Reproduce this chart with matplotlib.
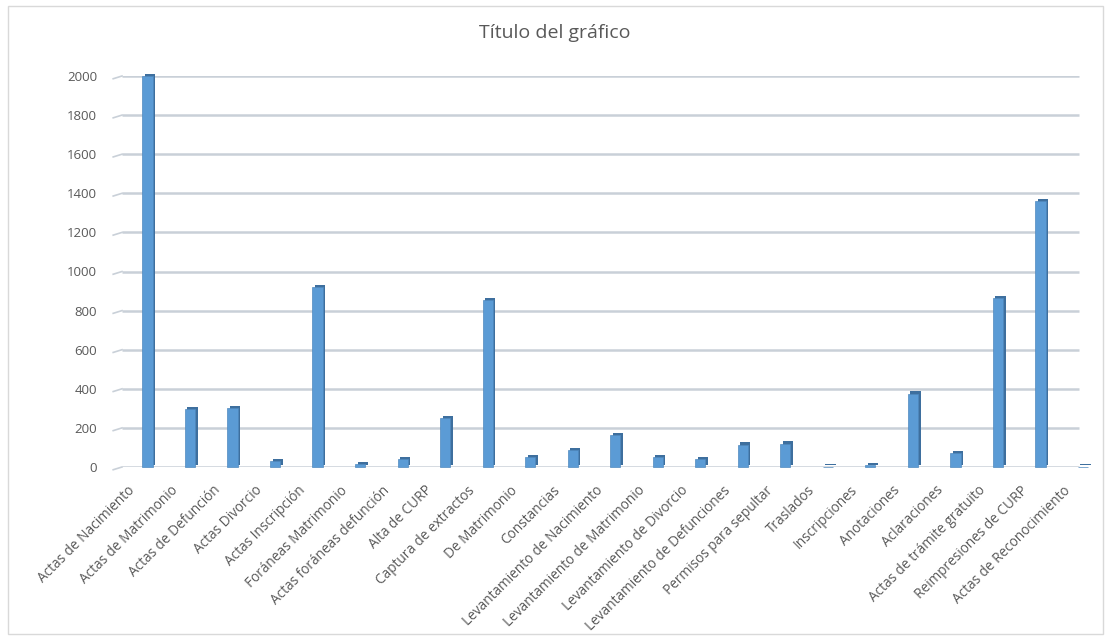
import numpy
import matplotlib
matplotlib.use('Agg')
import matplotlib.pyplot as plt
import matplotlib.transforms as mtransforms
from matplotlib.patches import Rectangle

categories = [
    'Actas de Nacimiento', 'Actas de Matrimonio', 'Actas de Defunción', 'Actas Divorcio',
    'Actas Inscripción', 'Foráneas Matrimonio', 'Actas foráneas defunción', 'Alta de CURP',
    'Captura de extractos', 'De Matrimonio', 'Constancias', 'Levantamiento de Nacimiento',
    'Levantamiento de Matrimonio', 'Levantamiento de Divorcio', 'Levantamiento de Defunciones',
    'Permisos para sepultar', 'Traslados', 'Inscripciones', 'Anotaciones', 'Aclaraciones',
    'Actas de trámite gratuito', 'Reimpresiones de CURP', 'Actas de Reconocimiento',
]
values = [2000, 295, 302, 30, 920, 15, 40, 250, 855, 50, 85, 162, 50, 40, 115, 120,
          2, 8, 375, 70, 865, 1360, 2]
yticks = list(range(0, 2001, 200))

plt.rcParams['font.family'] = ['Open Sans', 'DejaVu Sans']
TEXT = '#595959'
FRONT = '#5B9BD5'
SIDE = '#3E6F9E'

fig = plt.figure(figsize=(11.1, 6.41), dpi=100)
ax = fig.add_axes([122 / 1110, 1 - 467 / 641, (1100 - 122) / 1110, (467 - 76) / 641])

x = numpy.arange(len(categories))
v = numpy.array(values)

# back wall gridlines with a short slanted floor edge on the left
ax.hlines(yticks, -0.6, len(categories) - 1.1, color='#C9D0D8', linewidth=1.8, zorder=0)
floor = mtransforms.blended_transform_factory(ax.transAxes, ax.transData)
for t in yticks:
    ax.plot([-0.009, 0.0], [t - 14, t], transform=floor, color='#C9D0D8', linewidth=1.2,
            clip_on=False, zorder=0)

# depth: darker copy shifted right/up, then the front face
ax.bar(x + 0.06, v, width=0.24, bottom=12, color=SIDE, zorder=2, clip_on=False)
ax.bar(x, v, width=0.24, color=FRONT, edgecolor='#4F89BE', linewidth=0.5, zorder=3, clip_on=False)

ax.set_xlim(-0.6, len(categories) - 0.6)
ax.set_ylim(0, 2000)
ax.set_yticks(yticks)
ax.set_yticklabels([str(t) for t in yticks], fontsize=9.5, color=TEXT)
ax.set_xticks([])

# category labels, slanted and pulled left of each column like the 3D floor
lbl_tr = mtransforms.blended_transform_factory(ax.transData, ax.transAxes) + \
    mtransforms.ScaledTranslation(-20 / 100, -16 / 100, fig.dpi_scale_trans)
for i, cat in enumerate(categories):
    ax.text(i, 0, cat, transform=lbl_tr, rotation=45, ha='right', va='top',
            rotation_mode='anchor', fontsize=9.8, color=TEXT, clip_on=False)

ax.tick_params(axis='both', length=0)
ax.tick_params(axis='y', pad=18)
for s in ax.spines.values():
    s.set_visible(False)
ax.patch.set_alpha(0)

fig.text(0.5, 1 - 33 / 641, 'Título del gráfico', ha='center', va='center', fontsize=14, color=TEXT)

fig.patches.append(Rectangle((8 / 1110, 1 - 634 / 641), 1095 / 1110, 628 / 641,
                             transform=fig.transFigure, fill=False, edgecolor='#D9D9D9', linewidth=1))

fig.savefig('out.png', dpi=100)
